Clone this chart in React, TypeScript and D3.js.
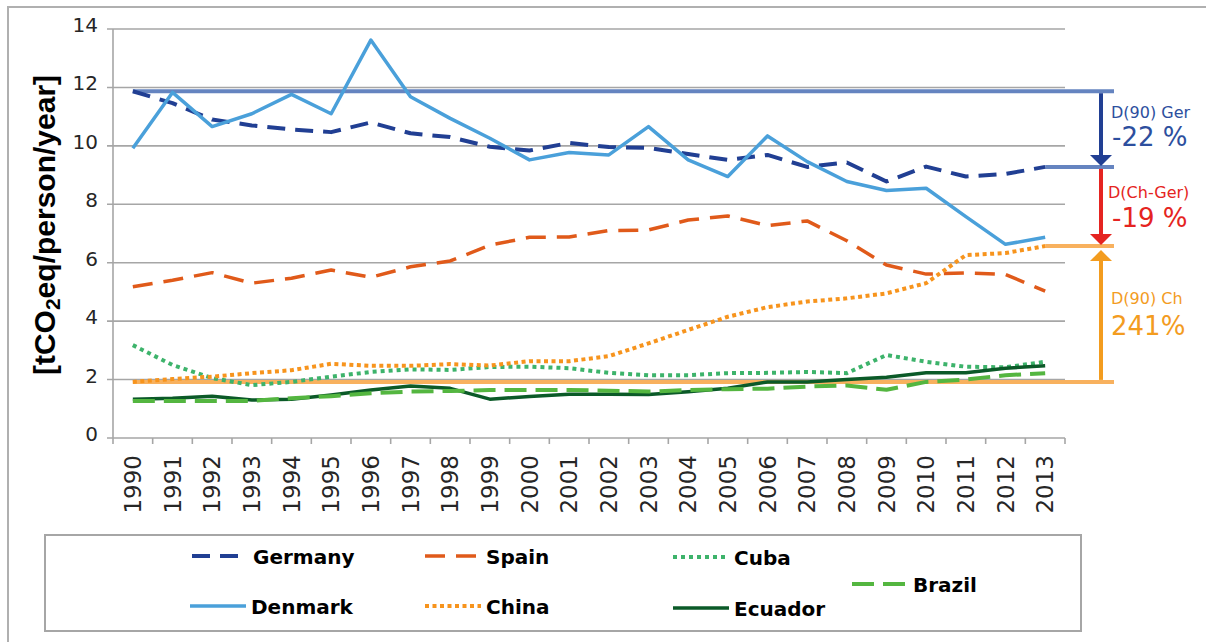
import React from "react";
import * as d3 from "d3";

const years = ["1990","1991","1992","1993","1994","1995","1996","1997","1998","1999","2000","2001","2002","2003","2004","2005","2006","2007","2008","2009","2010","2011","2012","2013"];
const germany = [11.87, 11.46, 10.9, 10.7, 10.56, 10.47, 10.8, 10.43, 10.3, 9.97, 9.84, 10.1, 9.96, 9.93, 9.72, 9.52, 9.69, 9.28, 9.43, 8.78, 9.29, 8.95, 9.04, 9.28];
const denmark = [9.92, 11.83, 10.66, 11.1, 11.76, 11.1, 13.62, 11.68, 10.94, 10.26, 9.52, 9.77, 9.69, 10.66, 9.52, 8.95, 10.34, 9.46, 8.78, 8.47, 8.55, 7.58, 6.63, 6.87];
const spain = [5.18, 5.4, 5.66, 5.3, 5.47, 5.75, 5.5, 5.86, 6.06, 6.6, 6.87, 6.88, 7.1, 7.12, 7.46, 7.6, 7.27, 7.43, 6.75, 5.92, 5.61, 5.65, 5.6, 5.03];
const china = [1.92, 2.02, 2.1, 2.22, 2.32, 2.54, 2.47, 2.47, 2.53, 2.48, 2.63, 2.63, 2.8, 3.24, 3.7, 4.15, 4.48, 4.67, 4.78, 4.95, 5.3, 6.26, 6.33, 6.57];
const cuba = [3.18, 2.5, 2.05, 1.81, 1.92, 2.1, 2.26, 2.35, 2.33, 2.43, 2.44, 2.39, 2.23, 2.15, 2.15, 2.22, 2.23, 2.26, 2.22, 2.84, 2.61, 2.44, 2.42, 2.61];
const ecuador = [1.33, 1.36, 1.43, 1.3, 1.33, 1.47, 1.64, 1.78, 1.7, 1.33, 1.42, 1.5, 1.5, 1.49, 1.58, 1.7, 1.92, 1.92, 2.0, 2.08, 2.23, 2.23, 2.39, 2.47];
const brazil = [1.27, 1.27, 1.27, 1.27, 1.36, 1.43, 1.53, 1.59, 1.61, 1.64, 1.64, 1.64, 1.62, 1.59, 1.64, 1.67, 1.69, 1.76, 1.8, 1.65, 1.92, 2.0, 2.15, 2.22];
const yTicks = [0, 2, 4, 6, 8, 10, 12, 14];
const labelGer = ["D(90) Ger", "-22 %"];
const labelChGer = ["D(Ch-Ger)", "-19 %"];
const labelCh = ["D(90) Ch", "241%"];

const series = [
  { name: "Germany", values: germany, color: "#213f93", width: 4, dash: "18,10", lx: 192, ly: 556 },
  { name: "Spain", values: spain, color: "#e05a1a", width: 3.5, dash: "20,11", lx: 425, ly: 556 },
  { name: "Cuba", values: cuba, color: "#3db36b", width: 4, dash: "4,4", lx: 673, ly: 557 },
  { name: "Denmark", values: denmark, color: "#4aa0da", width: 3.5, dash: null, lx: 190, ly: 606 },
  { name: "China", values: china, color: "#f7941d", width: 4, dash: "4,3.5", lx: 425, ly: 606 },
  { name: "Ecuador", values: ecuador, color: "#0b5a28", width: 3.5, dash: null, lx: 673, ly: 608 },
  { name: "Brazil", values: brazil, color: "#54b640", width: 4, dash: "22,9", lx: 852, ly: 584 },
];

export default function App() {
  const left = 113, right = 1065, top = 29, bottom = 438;
  const x = d3.scaleBand().domain(years).range([left, right]);
  const cx = (yr: string) => (x(yr) as number) + x.bandwidth() / 2;
  const y = d3.scaleLinear().domain([0, 14]).range([bottom, top]);
  const line = d3
    .line<number>()
    .x((_, i) => cx(years[i]))
    .y((d) => y(d));

  const last = years.length - 1;
  const gerStart = germany[0], gerEnd = germany[last];
  const chStart = china[0], chEnd = china[last];
  const refEnd = 1114;
  const ax = 1101;

  const arrowDown = (y0: number, y1: number) =>
    `M${ax - 11},${y1 - 11} L${ax + 11},${y1 - 11} L${ax},${y1} Z`;
  const arrowUp = (y1: number) =>
    `M${ax - 11},${y1 + 11} L${ax + 11},${y1 + 11} L${ax},${y1} Z`;

  const font = "'DejaVu Sans', sans-serif";

  return (
    <svg width={1206} height={642} style={{ position: "absolute", left: 0, top: 0, background: "#fff" }}>
      <rect x={8} y={7} width={1300} height={700} fill="none" stroke="#b0b0b0" strokeWidth={2} />

      {/* gridlines */}
      {yTicks.map((t) => (
        <line key={t} x1={left - 6} x2={right} y1={y(t)} y2={y(t)} stroke="#a6a6a6" strokeWidth={1.6} />
      ))}
      <line x1={left} x2={left} y1={top} y2={bottom} stroke="#a6a6a6" strokeWidth={1.6} />
      {years.map((yr) => (
        <line key={yr} x1={x(yr)} x2={x(yr)} y1={bottom} y2={bottom + 6} stroke="#a6a6a6" strokeWidth={1.6} />
      ))}
      <line x1={right} x2={right} y1={bottom} y2={bottom + 6} stroke="#a6a6a6" strokeWidth={1.6} />

      {/* y tick labels */}
      {yTicks.map((t) => (
        <text key={t} x={98} y={y(t) + 3} textAnchor="end" fontFamily={font} fontSize={20} fill="#262626">
          {t}
        </text>
      ))}
      {/* x tick labels */}
      {years.map((yr) => (
        <text
          key={yr}
          transform={`translate(${cx(yr) + 8},${455}) rotate(-90)`}
          textAnchor="end"
          fontFamily={font}
          fontSize={23}
          fill="#262626"
        >
          {yr}
        </text>
      ))}

      {/* y axis title */}
      <text
        transform="translate(55,225) rotate(-90)"
        textAnchor="middle"
        fontFamily="'Liberation Sans', Arial, sans-serif"
        fontWeight="bold"
        fontSize={30}
        fill="#000"
      >
        [tCO<tspan fontSize={21} dy={5}>2</tspan>
        <tspan dy={-5}>eq/person/year]</tspan>
      </text>

      {/* reference lines */}
      <line x1={cx(years[0])} x2={refEnd} y1={y(gerStart)} y2={y(gerStart)} stroke="#6584c0" strokeWidth={4} />
      <line x1={cx(years[last])} x2={refEnd} y1={y(gerEnd)} y2={y(gerEnd)} stroke="#6584c0" strokeWidth={4} />
      <line x1={cx(years[0])} x2={refEnd} y1={y(chStart)} y2={y(chStart)} stroke="#f8b15e" strokeWidth={4} />
      <line x1={cx(years[last])} x2={refEnd} y1={y(chEnd)} y2={y(chEnd)} stroke="#f8b15e" strokeWidth={4} />

      {/* series */}
      {series.map((s) => (
        <path
          key={s.name}
          d={line(s.values) as string}
          fill="none"
          stroke={s.color}
          strokeWidth={s.width}
          strokeDasharray={s.dash ?? undefined}
          strokeLinejoin="round"
        />
      ))}

      {/* arrows */}
      <line x1={ax} x2={ax} y1={y(gerStart) + 2} y2={y(gerEnd) - 10} stroke="#213f93" strokeWidth={4} />
      <path d={arrowDown(y(gerStart), y(gerEnd) - 1)} fill="#213f93" />
      <line x1={ax} x2={ax} y1={y(gerEnd) + 2} y2={y(chEnd) - 10} stroke="#e52421" strokeWidth={4} />
      <path d={arrowDown(y(gerEnd), y(chEnd) - 1)} fill="#e52421" />
      <line x1={ax} x2={ax} y1={y(chStart) - 2} y2={y(chEnd) + 10} stroke="#f39c1f" strokeWidth={4} />
      <path d={arrowUp(y(chEnd) + 4)} fill="#f39c1f" />

      {/* annotation texts */}
      <text x={1111} y={118} fontFamily={font} fontSize={16} fill="#2d4f9e">{labelGer[0]}</text>
      <text x={1112} y={146} fontFamily={font} fontSize={26} fill="#2d4f9e">{labelGer[1]}</text>
      <text x={1108} y={198} fontFamily={font} fontSize={16} fill="#e52421">{labelChGer[0]}</text>
      <text x={1112} y={227} fontFamily={font} fontSize={26} fill="#e52421">{labelChGer[1]}</text>
      <text x={1111} y={304} fontFamily={font} fontSize={16} fill="#f39c1f">{labelCh[0]}</text>
      <text x={1111} y={335} fontFamily={font} fontSize={26} fill="#f39c1f">{labelCh[1]}</text>

      {/* legend */}
      <rect x={45} y={535} width={1036} height={96} fill="#fff" stroke="#a6a6a6" strokeWidth={2} />
      {series.map((s) => (
        <g key={s.name}>
          <line
            x1={s.lx}
            x2={s.lx + 56}
            y1={s.ly}
            y2={s.ly}
            stroke={s.color}
            strokeWidth={s.width}
            strokeDasharray={s.dash ?? undefined}
          />
          <text x={s.lx + 61} y={s.ly + 8} fontFamily={font} fontWeight="bold" fontSize={20} fill="#000">
            {s.name}
          </text>
        </g>
      ))}
    </svg>
  );
}
